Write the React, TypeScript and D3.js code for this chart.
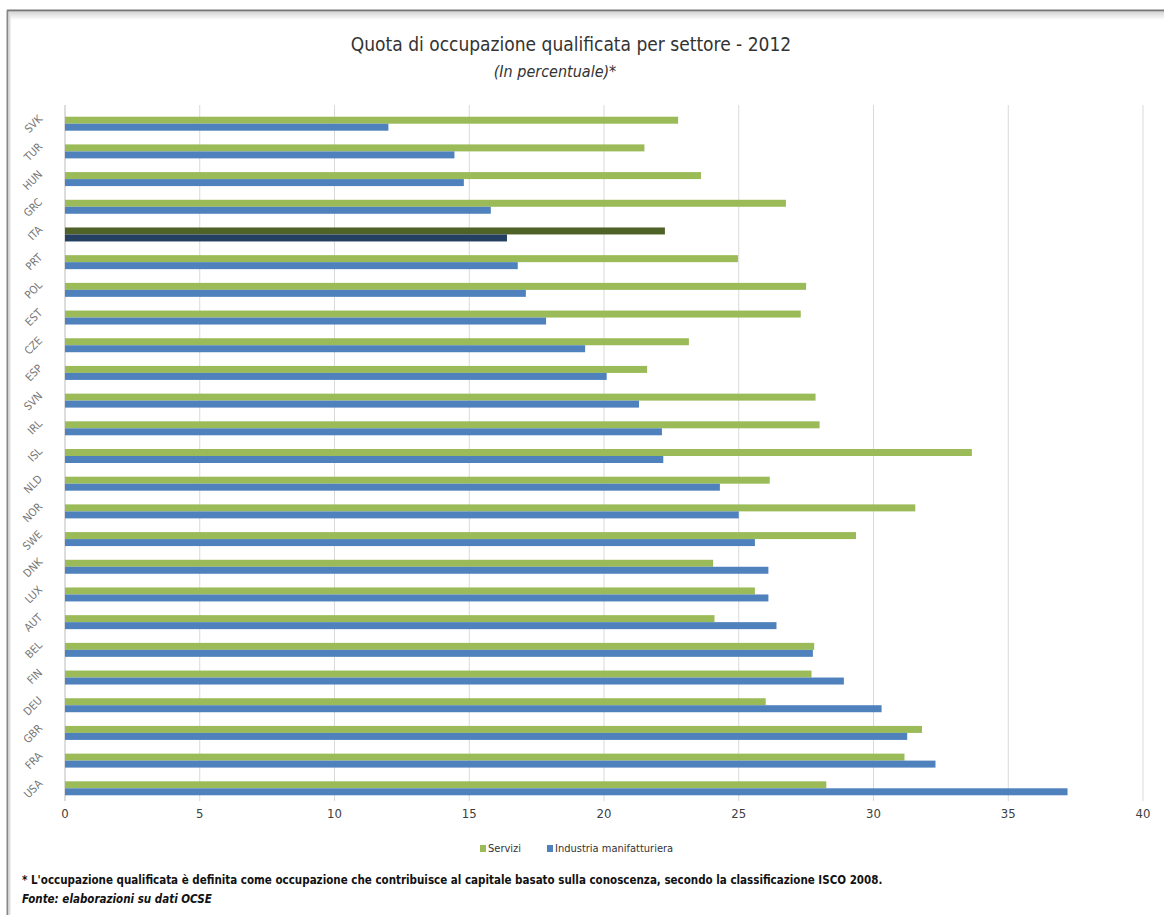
import React from "react";
import * as d3 from "d3";

const countries = ["SVK","TUR","HUN","GRC","ITA","PRT","POL","EST","CZE","ESP","SVN","IRL","ISL","NLD","NOR","SWE","DNK","LUX","AUT","BEL","FIN","DEU","GBR","FRA","USA"];
const servizi = [22.75,21.5,23.6,26.75,22.26,24.97,27.5,27.3,23.15,21.6,27.85,28.0,33.65,26.15,31.55,29.35,24.05,25.6,24.1,27.8,27.7,26.0,31.8,31.15,28.25];
const industria = [12.0,14.45,14.8,15.8,16.4,16.8,17.1,17.85,19.3,20.1,21.3,22.15,22.2,24.3,25.0,25.6,26.1,26.1,26.4,27.75,28.9,30.3,31.25,32.3,37.2];
const xTicks = [0,5,10,15,20,25,30,35,40];
const seriesNames = ["Servizi","Industria manifatturiera"];

const W = 1164, H = 915;
const FONT = "'Liberation Sans Narrow', 'DejaVu Sans Condensed', 'DejaVu Sans', sans-serif";

export default function App() {
  const x = d3.scaleLinear().domain([0, 40]).range([65, 1143]);
  const y = d3.scaleBand<string>().domain(countries).range([103, 809]).padding(0.495);
  const sub = d3.scaleBand<string>().domain(["s","i"]).range([0, y.bandwidth()]);
  const colors = { s: "#9BBB59", i: "#4F81BD" };
  const itaColors = { s: "#4F6228", i: "#243F60" };

  return (
    <svg width={W} height={H} style={{ position: "absolute", left: 0, top: 0, background: "#fff" }} fontFamily={FONT}>
      <defs>
        <linearGradient id="shadowTop" x1="0" y1="0" x2="0" y2="1">
          <stop offset="0" stopColor="#bbb" />
          <stop offset="1" stopColor="#fff" />
        </linearGradient>
      </defs>
      {/* frame */}
      <rect x={7} y={12} width={1160} height={8} fill="url(#shadowTop)" opacity={0.6} />
      <line x1={7} x2={W} y1={10.5} y2={10.5} stroke="#777" strokeWidth={2} />
      <line x1={7.5} x2={7.5} y1={10} y2={H} stroke="#888" strokeWidth={2} />
      <line x1={9.5} x2={9.5} y1={12} y2={H} stroke="#ddd" strokeWidth={2} />

      {/* title */}
      <text x={571} y={51} textAnchor="middle" fontSize={19} fill="#333">Quota di occupazione qualificata per settore - 2012</text>
      <text x={555} y={77} textAnchor="middle" fontSize={16} fontStyle="italic" fill="#333">(In percentuale)*</text>

      {/* gridlines */}
      {xTicks.map((t) => (
        <line key={"g" + t} x1={x(t)} x2={x(t)} y1={105} y2={801} stroke={t === 0 ? "#bbb" : "#d9d9d9"} strokeWidth={1} />
      ))}

      {/* bars */}
      {countries.map((c, i) => {
        const cols = c === "ITA" ? itaColors : colors;
        return (
          <g key={c}>
            <rect x={x(0)} y={(y(c) as number) + (sub("s") as number)} width={x(servizi[i]) - x(0)} height={sub.bandwidth()} fill={cols.s} />
            <rect x={x(0)} y={(y(c) as number) + (sub("i") as number)} width={x(industria[i]) - x(0)} height={sub.bandwidth()} fill={cols.i} />
          </g>
        );
      })}

      {/* y labels */}
      {countries.map((c) => {
        const cy = (y(c) as number) + y.bandwidth() / 2;
        return (
          <text key={"l" + c} transform={`translate(${43},${cy - 4}) rotate(-45)`} textAnchor="end" fontSize={11} fill="#777">{c}</text>
        );
      })}

      {/* x tick labels */}
      {xTicks.map((t) => (
        <text key={"t" + t} x={x(t)} y={818} textAnchor="middle" fontSize={13} fill="#404040">{t}</text>
      ))}

      {/* legend */}
      <rect x={480} y={845} width={6} height={7} fill={colors.s} />
      <text x={488} y={852} fontSize={11} fill="#333">{seriesNames[0]}</text>
      <rect x={547} y={845} width={6} height={7} fill={colors.i} />
      <text x={555} y={852} fontSize={11} fill="#333">{seriesNames[1]}</text>

      {/* footnote */}
      <text x={22} y={884} fontSize={11.5} fontWeight="bold" fill="#111">* L'occupazione qualificata è definita come occupazione che contribuisce al capitale basato sulla conoscenza, secondo la classificazione ISCO 2008.</text>
      <text x={22} y={903} fontSize={11.5} fontWeight="bold" fontStyle="italic" fill="#111">Fonte: elaborazioni su dati OCSE</text>
    </svg>
  );
}
